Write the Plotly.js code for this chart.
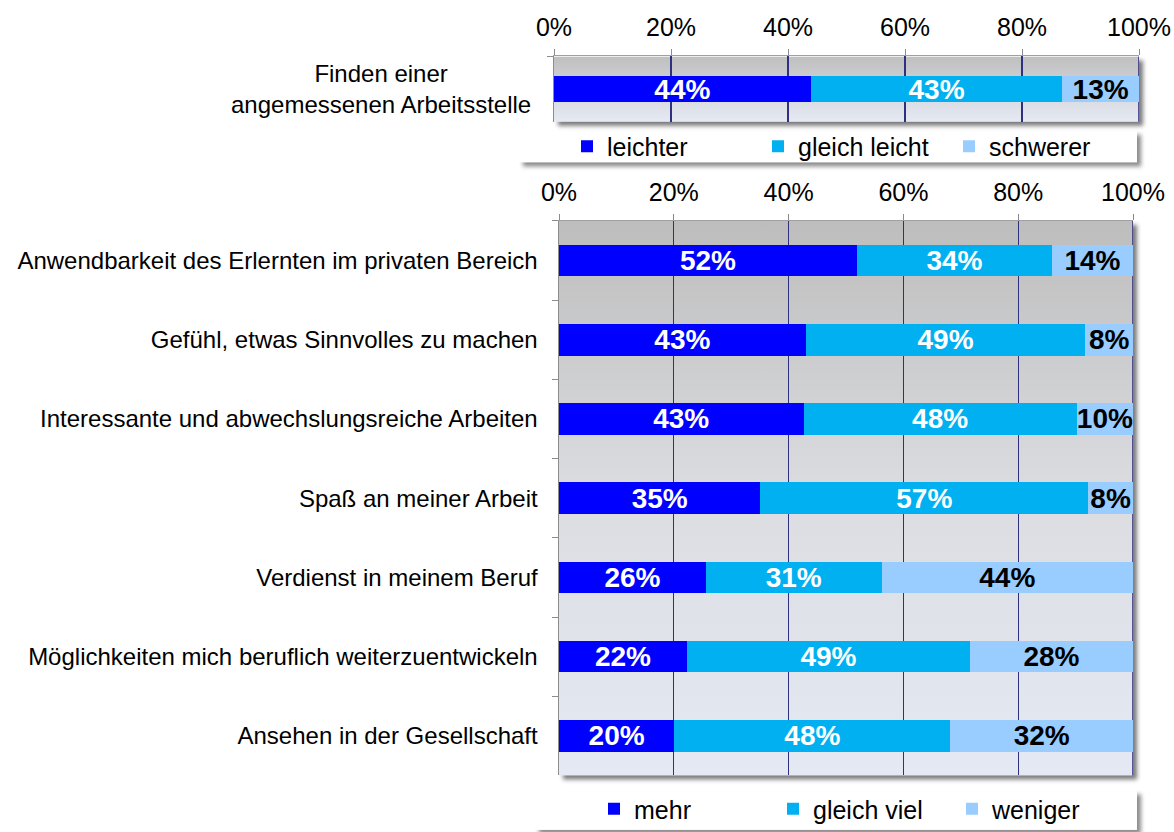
<!DOCTYPE html>
<html>
<head>
<meta charset="utf-8">
<script src="https://cdn.plot.ly/plotly-3.0.1.min.js"></script>
<style>
  html, body { margin: 0; padding: 0; background: #fff; }
  #chart { width: 1174px; height: 832px; }
</style>
</head>
<body>
<div id="chart"></div>
<script>
// top panel: one question
const topCategory = ['Finden einer<br>angemessenen Arbeitsstelle'];
const topSeries = ['leichter', 'gleich leicht', 'schwerer'];
const topLeichter = [43.9];
const topGleich = [43.0];
const topSchwerer = [13.1];

// bottom panel: seven aspects
const categories = [
  'Anwendbarkeit des Erlernten im privaten Bereich',
  'Gefühl, etwas Sinnvolles zu machen',
  'Interessante und abwechslungsreiche Arbeiten',
  'Spaß an meiner Arbeit',
  'Verdienst in meinem Beruf',
  'Möglichkeiten mich beruflich weiterzuentwickeln',
  'Ansehen in der Gesellschaft'
];
const series = ['mehr', 'gleich viel', 'weniger'];
const mehr = [51.9, 43.0, 42.6, 35.1, 25.6, 22.3, 20.1];
const gleichViel = [34.0, 48.7, 47.6, 57.1, 30.6, 49.3, 48.1];
const weniger = [14.1, 8.3, 9.8, 7.8, 43.8, 28.4, 31.8];

const colors = ['#0000ff', '#00b0f0', '#99ccff'];
const textColors = ['#ffffff', '#ffffff', '#000000'];
const FONT = 'Liberation Sans, Arial, sans-serif';
const W = 1174, H = 832;

function barTrace(name, xs, ys, i, xa, ya, legend) {
  return {
    type: 'bar', orientation: 'h', name: name,
    x: xs, y: ys, xaxis: xa, yaxis: ya, legend: legend,
    marker: { color: colors[i], line: { width: 0 } },
    texttemplate: '%{x:.0f}%',
    textposition: 'inside', insidetextanchor: 'middle',
    constraintext: 'none', textangle: 0,
    textfont: { family: FONT, size: 28, weight: 'bold', color: textColors[i] },
    hoverinfo: 'skip'
  };
}

const traces = [
  barTrace(topSeries[0], topLeichter, topCategory, 0, 'x', 'y', 'legend'),
  barTrace(topSeries[1], topGleich, topCategory, 1, 'x', 'y', 'legend'),
  barTrace(topSeries[2], topSchwerer, topCategory, 2, 'x', 'y', 'legend'),
  barTrace(series[0], mehr, categories, 0, 'x2', 'y2', 'legend2'),
  barTrace(series[1], gleichViel, categories, 1, 'x2', 'y2', 'legend2'),
  barTrace(series[2], weniger, categories, 2, 'x2', 'y2', 'legend2')
];

// background panels (gradient + soft drop shadow) as svg images
function panel(left, top, w, h, stops, shadow) {
  const pad = 10;
  let s = "<svg xmlns='http://www.w3.org/2000/svg' width='" + (w + pad) + "' height='" + (h + pad) +
    "' viewBox='0 0 " + (w + pad) + ' ' + (h + pad) + "'><defs><linearGradient id='g' x1='0' y1='0' x2='0' y2='1'>";
  stops.forEach(function (st) { s += "<stop offset='" + st[0] + "' stop-color='" + st[1] + "'/>"; });
  s += "</linearGradient><filter id='f' x='-5%' y='-20%' width='115%' height='150%'><feGaussianBlur stdDeviation='2.2'/></filter></defs>";
  s += "<rect x='4' y='4' width='" + w + "' height='" + h + "' fill='" + shadow + "' filter='url(#f)'/>";
  s += "<rect x='0' y='0' width='" + w + "' height='" + h + "' fill='url(#g)'/></svg>";
  return {
    source: 'data:image/svg+xml;charset=utf-8,' + encodeURIComponent(s),
    xref: 'paper', yref: 'paper', xanchor: 'left', yanchor: 'top',
    x: left / W, y: 1 - top / H, sizex: (w + pad) / W, sizey: (h + pad) / H,
    sizing: 'stretch', layer: 'below'
  };
}

const gridCol = '#303080';
const tickFont = { family: FONT, size: 25, color: '#000' };

function xAxis(domain, anchor) {
  return {
    domain: domain, anchor: anchor, side: 'top', range: [0, 100],
    tickmode: 'linear', tick0: 0, dtick: 20, ticksuffix: '%',
    showgrid: true, gridcolor: gridCol, gridwidth: 1.3, zeroline: false,
    ticks: 'outside', ticklen: 6, tickcolor: '#8c8c8c', tickwidth: 1,
    showline: true, linecolor: '#a0a0a0', linewidth: 1,
    tickfont: tickFont, ticklabelstandoff: 3, fixedrange: true
  };
}

// right-hand border of each plot area (navy, like the grid)
function rightEdge(xref, yref) {
  return {
    type: 'line', xref: xref, yref: yref + ' domain', x0: 100, x1: 100, y0: 0, y1: 1,
    line: { color: gridCol, width: 1.6 }, layer: 'below'
  };
}

const legendFont = { family: FONT, size: 25, color: '#000' };

const layout = {
  width: W, height: H,
  margin: { l: 0, r: 0, t: 0, b: 0 },
  paper_bgcolor: '#ffffff', plot_bgcolor: 'rgba(0,0,0,0)',
  barmode: 'stack', bargap: 0.6,
  font: { family: FONT, color: '#000' },
  xaxis: xAxis([554 / W, 1139 / W], 'y'),
  yaxis: {
    domain: [1 - 123 / H, 1 - 57 / H], anchor: 'x', type: 'category',
    tickson: 'boundaries', ticks: 'outside', ticklen: 6, tickcolor: '#8c8c8c',
    showline: true, linecolor: '#8c8c8c', linewidth: 1.5,
    showticklabels: false, showgrid: false, fixedrange: true
  },
  xaxis2: xAxis([559 / W, 1133 / W], 'y2'),
  yaxis2: {
    domain: [1 - 783 / H, 1 - 223 / H], anchor: 'x2', type: 'category',
    autorange: 'reversed',
    tickson: 'boundaries', ticks: 'outside', ticklen: 6, tickcolor: '#8c8c8c',
    showline: true, linecolor: '#8c8c8c', linewidth: 1.5,
    tickfont: { family: FONT, size: 24, color: '#000' }, ticklabelstandoff: 15,
    showgrid: false, fixedrange: true
  },
  legend: {
    orientation: 'h', x: 567 / W, xanchor: 'left', y: 1 - 148 / H, yanchor: 'middle',
    bgcolor: 'rgba(0,0,0,0)', font: legendFont,
    entrywidth: 146, traceorder: 'normal'
  },
  legend2: {
    orientation: 'h', x: 594 / W, xanchor: 'left', y: 1 - 817 / H, yanchor: 'middle',
    bgcolor: 'rgba(0,0,0,0)', font: legendFont,
    entrywidth: 134, traceorder: 'normal'
  },
  images: [
    panel(519, 132, 618, 32, [[0, '#ffffff'], [1, '#ffffff']], '#8a8a8a'),
    panel(535, 798, 602, 40, [[0, '#ffffff'], [1, '#ffffff']], '#8a8a8a'),
    panel(554, 57, 585, 66, [[0, '#bfbfbf'], [1, '#e6eaf4']], '#7a7a7a'),
    panel(559, 223, 574, 560, [[0, '#bdbdbd'], [0.5, '#dcdde1'], [1, '#e4e9f4']], '#7a7a7a')
  ],
  shapes: [rightEdge('x', 'y'), rightEdge('x2', 'y2')],
  annotations: [{
    text: topCategory[0], xref: 'paper', yref: 'y', x: 533 / W, y: topCategory[0],
    xanchor: 'right', yanchor: 'middle', align: 'center', showarrow: false,
    font: { family: FONT, size: 24, color: '#000' }
  }]
};

Plotly.newPlot('chart', traces, layout, { displayModeBar: false, staticPlot: true });
</script>
</body>
</html>
